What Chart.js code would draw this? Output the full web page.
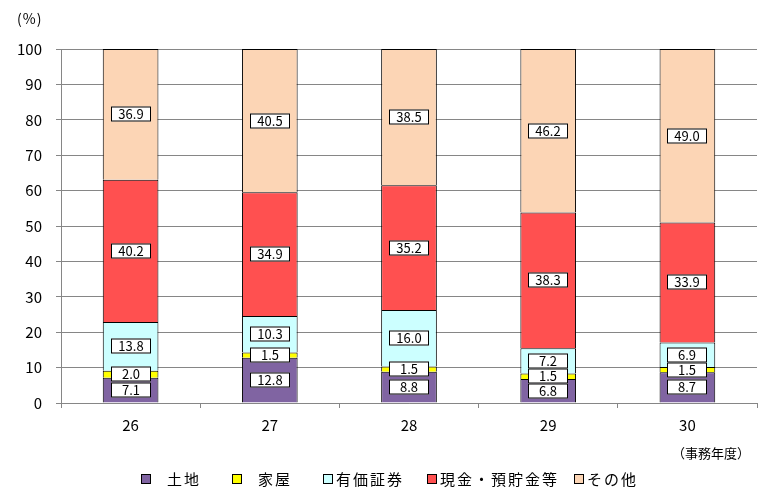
<!DOCTYPE html>
<html lang="ja">
<head>
  <meta charset="UTF-8">
  <title>資産構成の推移</title>
  <script src="https://cdn.jsdelivr.net/npm/chart.js"></script>
  <style>
    html, body { margin: 0; padding: 0; background: #fff; }
    #wrap { position: relative; width: 771px; height: 500px; }
  </style>
</head>
<body>
  <div id="wrap"><canvas id="assetChart" width="771" height="500"></canvas></div>

  <script>
    // data
    const categories = ['26', '27', '28', '29', '30'];
    const seriesLabels = ['土地', '家屋', '有価証券', '現金・預貯金等', 'その他'];
    const landValues = [7.1, 12.8, 8.8, 6.8, 8.7];
    const houseValues = [2.0, 1.5, 1.5, 1.5, 1.5];
    const securitiesValues = [13.8, 10.3, 16.0, 7.2, 6.9];
    const cashValues = [40.2, 34.9, 35.2, 38.3, 33.9];
    const otherValues = [36.9, 40.5, 38.5, 46.2, 49.0];
    const yUnitLabel = '(%)';
    const xUnitLabel = '（事務年度）';

    const seriesColors = ['#8064A2', '#FFFF00', '#CCFFFF', '#FF5050', '#FCD5B5'];
    const FONT = "'Noto Sans CJK JP', 'Noto Sans', sans-serif";

    const makeSet = (i, values) => ({
      label: seriesLabels[i],
      data: values,
      backgroundColor: seriesColors[i],
      borderColor: '#000',
      borderWidth: { top: 1, right: 1, bottom: 0, left: 1 },
      borderSkipped: false,
      barPercentage: 0.4,
      categoryPercentage: 1.0
    });

    // white boxed value labels in the middle of each segment
    const boxLabels = {
      id: 'boxLabels',
      afterDatasetsDraw(chart) {
        const ctx = chart.ctx;
        ctx.save();
        ctx.font = '13px ' + FONT;
        ctx.textAlign = 'center';
        ctx.textBaseline = 'alphabetic';
        chart.data.datasets.forEach((ds, di) => {
          chart.getDatasetMeta(di).data.forEach((bar, i) => {
            const cy = Math.round((bar.y + bar.base) / 2);
            const cx = Math.round(bar.x);
            const w = 40, h = 15;
            ctx.fillStyle = '#fff';
            ctx.fillRect(cx - w / 2, cy - h / 2, w, h);
            ctx.strokeStyle = '#000';
            ctx.lineWidth = 1;
            ctx.strokeRect(cx - w / 2 + 0.5, cy - h / 2 + 0.5, w - 1, h - 1);
            ctx.fillStyle = '#000';
            ctx.fillText(ds.data[i].toFixed(1), cx, cy + 5);
          });
        });
        ctx.restore();
      }
    };

    // unit texts and bottom legend
    const extras = {
      id: 'extras',
      afterDraw(chart) {
        const ctx = chart.ctx;
        ctx.save();
        ctx.fillStyle = '#000';
        ctx.textBaseline = 'alphabetic';
        ctx.font = '14px ' + FONT;
        ctx.textAlign = 'left';
        ctx.letterSpacing = '1px';
        ctx.fillText(yUnitLabel, 17, 24);
        ctx.font = '13px ' + FONT;
        ctx.letterSpacing = '0px';
        ctx.textAlign = 'right';
        ctx.fillText(xUnitLabel, 750, 458);

        const boxX = [141, 232, 323, 427, 574];
        const textOff = [26, 26, 13, 13, 13];
        ctx.font = '15px ' + FONT;
        ctx.textAlign = 'left';
        ctx.letterSpacing = '2px';
        chart.data.datasets.forEach((ds, i) => {
          ctx.fillStyle = ds.backgroundColor;
          ctx.fillRect(boxX[i], 474, 10, 10);
          ctx.strokeStyle = '#000';
          ctx.lineWidth = 1;
          ctx.strokeRect(boxX[i] + 0.5, 474.5, 9, 9);
          ctx.fillStyle = '#000';
          ctx.fillText(ds.label, boxX[i] + textOff[i], 485);
        });
        ctx.restore();
      }
    };

    new Chart(document.getElementById('assetChart'), {
      type: 'bar',
      data: {
        labels: categories,
        datasets: [
          makeSet(0, landValues),
          makeSet(1, houseValues),
          makeSet(2, securitiesValues),
          makeSet(3, cashValues),
          makeSet(4, otherValues)
        ]
      },
      options: {
        responsive: false,
        animation: false,
        layout: { padding: { left: 0, right: 14, top: 49, bottom: 0 } },
        plugins: {
          legend: { display: false },
          tooltip: { enabled: false }
        },
        scales: {
          x: {
            stacked: true,
            afterFit(scale) { scale.height = 97; },
            grid: {
              offset: true,
              drawOnChartArea: false,
              color: '#868686',
              tickLength: 5
            },
            border: { color: '#868686' },
            ticks: {
              color: '#000',
              padding: 8,
              font: { family: FONT, size: 15 }
            }
          },
          y: {
            stacked: true,
            min: 0,
            max: 100,
            afterFit(scale) { scale.width = 61; },
            grid: { color: '#868686', tickLength: 5 },
            border: { color: '#868686' },
            ticks: {
              stepSize: 10,
              color: '#000',
              padding: 14,
              font: { family: FONT, size: 15 }
            }
          }
        }
      },
      plugins: [boxLabels, extras]
    });
  </script>
</body>
</html>
